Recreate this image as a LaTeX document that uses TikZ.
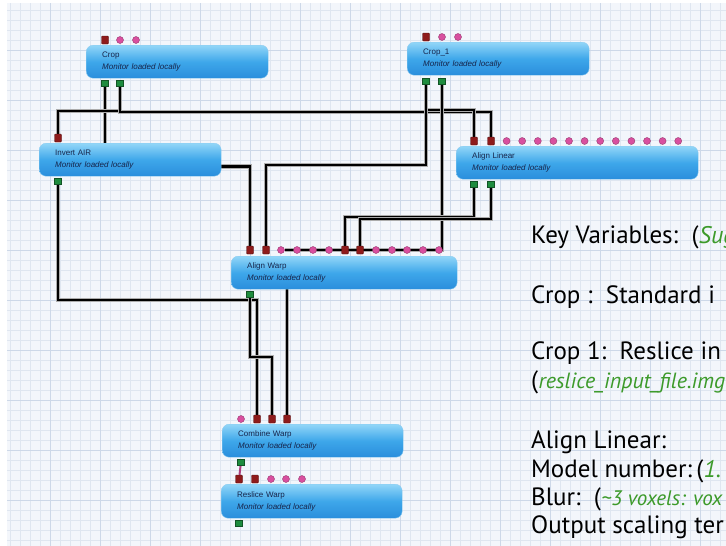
\documentclass[tikz,border=0pt]{standalone}
\usepackage{fontspec}
\setmainfont{Liberation Sans}
\newfontfamily\keyfont{PT Sans}
\usepackage{xcolor}
\usetikzlibrary{positioning,calc}

\definecolor{gridbg}{HTML}{F3F6FB}
\definecolor{gridln}{HTML}{DFE6F0}
\definecolor{gridmaj}{HTML}{CDD8E8}
\definecolor{boxtop}{HTML}{92D6F8}
\definecolor{boxmid}{HTML}{3EA7EA}
\definecolor{boxbot}{HTML}{2A8EDC}
\definecolor{boxline}{HTML}{8CCBF0}
\definecolor{boxtext}{HTML}{16244A}
\definecolor{portred}{HTML}{8E1B1B}
\definecolor{portpink}{HTML}{D8509F}
\definecolor{portgreen}{HTML}{1E8C3E}
\definecolor{keygreen}{HTML}{3C9A2A}

\pgfdeclarelayer{bg}
\pgfdeclarelayer{wires}
\pgfsetlayers{bg,wires,main}

\begin{document}
\begin{tikzpicture}[
    x=1pt, y=-1pt,
    module/.style={rectangle, draw=boxline, top color=boxtop, bottom color=boxbot, middle color=boxmid, rounded corners=7pt, minimum height=33pt, inner xsep=16pt, inner ysep=0pt, align=left, text=boxtext, font=\fontsize{8}{12}\selectfont, anchor=north west},
    portin/.style={rectangle, draw=portred!60!black, fill=portred, minimum width=7pt, minimum height=8pt, inner sep=0pt, rounded corners=1pt},
    portopt/.style={circle, draw=portpink!70!black, fill=portpink, minimum size=7pt, inner sep=0pt},
    portout/.style={rectangle, draw=portgreen!60!black, fill=portgreen, minimum width=7pt, minimum height=6pt, inner sep=0pt},
    wire/.style={draw=black, line width=2.8pt, preaction={draw=gray!65, line width=4.6pt}},
    key/.style={font=\keyfont\fontsize{25}{28}\selectfont, anchor=base west, inner sep=0pt},
    keyval/.style={font=\keyfont\itshape\fontsize{24}{28}\selectfont, text=keygreen, anchor=base west, inner sep=0pt}
]
    \useasboundingbox (0,0) rectangle (726,546);

    % grid paper
    \begin{pgfonlayer}{bg}
        \fill [white] (0,0) rectangle (726,546);
        \fill [gridbg] (7,3) rectangle (726,546);
        \draw [gridln, line width=0.4pt, step=10pt] (7,3) grid (726,546);
        \draw [gridmaj, line width=0.5pt, step=50pt] (7,3) grid (726,546);
    \end{pgfonlayer}

    % modules
    \node [module, minimum width=182pt, text width=150pt] (crop) at (86,45) {Crop\\\textit{Monitor loaded locally}};
    \node [module, minimum width=182pt, text width=150pt] (crop1) at (407,42) {Crop\_1\\\textit{Monitor loaded locally}};
    \node [module, minimum width=182pt, text width=150pt] (inv) at (39,143) {Invert AIR\\\textit{Monitor loaded locally}};
    \node [module, minimum width=242pt, text width=210pt] (alin) at (456,146) {Align Linear\\\textit{Monitor loaded locally}};
    \node [module, minimum width=226pt, text width=194pt] (awarp) at (231,256) {Align Warp\\\textit{Monitor loaded locally}};
    \node [module, minimum width=181pt, text width=149pt] (comb) at (222,424) {Combine Warp\\\textit{Monitor loaded locally}};
    \node [module, minimum width=181pt, text width=149pt, minimum height=34pt] (resl) at (221,484) {Reslice Warp\\\textit{Monitor loaded locally}};

    % ports
    \node [portin] (crop-r1) at (105,40) {};
    \foreach \px [count=\k] in {120,136} \node [portopt] (crop-p\k) at (\px,40) {};
    \node [portout] (crop-g1) at (105,83) {};
    \node [portout] (crop-g2) at (120,83) {};

    \node [portin] (crop1-r1) at (426,37) {};
    \foreach \px [count=\k] in {442,458} \node [portopt] (crop1-p\k) at (\px,37) {};
    \node [portout] (crop1-g1) at (426,81) {};
    \node [portout] (crop1-g2) at (442,81) {};

    \node [portin] (inv-r1) at (58,138) {};
    \node [portout] (inv-g1) at (58,181) {};
    \coordinate (inv-o) at ([yshift=-7pt]inv.east);

    \node [portin] (alin-r1) at (474,141) {};
    \node [portin] (alin-r2) at (491,141) {};
    \foreach \k in {1,...,12} \node [portopt] (alin-p\k) at ({491+15.6*\k},141) {};
    \node [portout] (alin-g1) at (474,184) {};
    \node [portout] (alin-g2) at (491,184) {};

    \node [portin] (awarp-r1) at (250,250) {};
    \node [portin] (awarp-r2) at (266,250) {};
    \node [portin] (awarp-r3) at (345,250) {};
    \node [portin] (awarp-r4) at (360,250) {};
    \foreach \px [count=\k] in {281,297,313,329,376,392,407,423,439} \node [portopt] (awarp-p\k) at (\px,250) {};
    \node [portout] (awarp-g1) at (250,294) {};

    \node [portopt] (comb-p1) at (241,419) {};
    \node [portin] (comb-r1) at (257,419) {};
    \node [portin] (comb-r2) at (272,419) {};
    \node [portin] (comb-r3) at (287,419) {};
    \node [portout] (comb-g1) at (241,462) {};

    \node [portin] (resl-r1) at (239,479) {};
    \node [portin] (resl-r2) at (255,479) {};
    \foreach \px [count=\k] in {271,286,302} \node [portopt] (resl-p\k) at (\px,479) {};
    \node [portout] (resl-g1) at (239,523) {};

    % wiring
    \begin{pgfonlayer}{wires}
        \draw [wire] (crop-g1) -- (crop-g1 |- inv.north);
        \draw [wire] (crop-g2) -- ++(0,28) -| (inv-r1);
        \draw [wire] (crop-g2) -- ++(0,29) -| (alin-r2);
        \draw [wire] (crop1-g1) -- ++(0,29) -| (alin-r1);
        \draw [wire] (crop1-g1) -- ++(0,84) -| (awarp-r2);
        \draw [wire] (crop1-g2) |- (awarp-p1);
        \draw [wire] (inv-o) -| (awarp-r1);
        \draw [wire] (alin-g1) -- ++(0,33) -| (awarp-r3);
        \draw [wire] (alin-g2) -- ++(0,35) -| (awarp-r4);
        \draw [wire] (inv-g1) -- ++(0,119) -| (comb-r1);
        \draw [wire] (awarp-g1) -- ++(0,63) -| (comb-r2);
        \draw [wire] (comb-r3 |- awarp.south) -- (comb-r3);
        \draw [draw=portpink!80!black, line width=2pt] (comb-g1) -- (resl-r1);
    \end{pgfonlayer}

    % key variables
    \node [key] (key-head) at (531,243) {Key Variables:\ \ (};
    \node [keyval] (key-head-v) at (key-head.base east) {Sug};
    \node [key] (key-crop) at (531,303) {Crop :\ \ Standard i};
    \node [key] (key-crop1) at (531,359) {Crop 1:\ \ Reslice in};
    \node [key] (key-crop1-p) at (531,388) {(};
    \node [keyval, font=\keyfont\itshape\fontsize{22}{28}\selectfont] (key-crop1-v) at (key-crop1-p.base east) {reslice\_input\_file.img};
    \node [key] (key-alin) at (531,448) {Align Linear:};
    \node [key] (key-model) at (531,477) {Model number:\,(};
    \node [keyval] (key-model-v) at (key-model.base east) {1.};
    \node [key] (key-blur) at (531,505) {Blur:\ \ (};
    \node [keyval, font=\keyfont\itshape\fontsize{21}{28}\selectfont] (key-blur-v) at (key-blur.base east) {\textasciitilde3 voxels: vox};
    \node [key] (key-scale) at (531,533) {Output scaling ter};
\end{tikzpicture}
\end{document}
